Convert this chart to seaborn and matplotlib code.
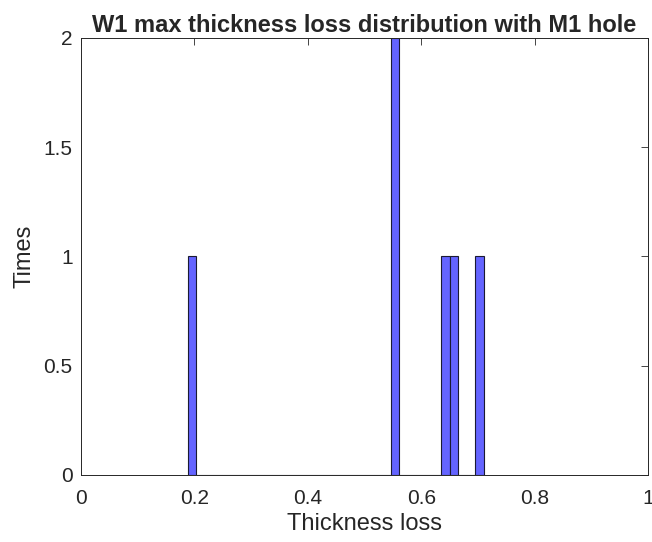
import numpy as np
import pandas as pd
import matplotlib
matplotlib.use("Agg")
import matplotlib.pyplot as plt
import seaborn as sns

# max thickness loss values
thickness_loss = [0.195, 0.550, 0.555, 0.643, 0.658, 0.700]
bin_start = 0.1887
bin_width = 0.0149
n_bins = 35

x_ticks = [0, 0.2, 0.4, 0.6, 0.8, 1]
y_ticks = [0, 0.5, 1, 1.5, 2]

sns.set_style("white")
plt.rcParams['font.family'] = ['Liberation Sans', 'DejaVu Sans']

df = pd.DataFrame({"Thickness loss": thickness_loss})

fig, ax = plt.subplots(figsize=(6.52, 5.42), dpi=100)
fig.subplots_adjust(left=0.124, right=0.994, top=0.930, bottom=0.124)

sns.histplot(
    data=df, x="Thickness loss", ax=ax,
    binwidth=bin_width, binrange=(bin_start, bin_start + n_bins * bin_width),
    color="#6464ff", alpha=1.0, edgecolor="#1a1a33", linewidth=0.8,
)

ax.set_xlim(0, 1)
ax.set_ylim(0, 2)
ax.set_xticks(x_ticks)
ax.set_xticklabels(["0", "0.2", "0.4", "0.6", "0.8", "1"])
ax.set_yticks(y_ticks)
ax.set_yticklabels(["0", "0.5", "1", "1.5", "2"])
ax.tick_params(direction="in", length=5, width=0.6, colors="#262626",
               labelsize=15, top=True, right=True)
ax.tick_params(axis="x", pad=10)
ax.tick_params(axis="y", pad=6)
for s in ax.spines.values():
    s.set_visible(True)
    s.set_color("#262626")
    s.set_linewidth(0.7)

ax.set_xlabel("Thickness loss", fontsize=17, color="#262626", labelpad=4)
ax.set_ylabel("Times", fontsize=17, color="#262626", labelpad=6)
ax.set_title("W1 max thickness loss distribution with M1 hole",
             fontsize=17, fontweight="bold", pad=4)

fig.savefig("out.png", dpi=100)
